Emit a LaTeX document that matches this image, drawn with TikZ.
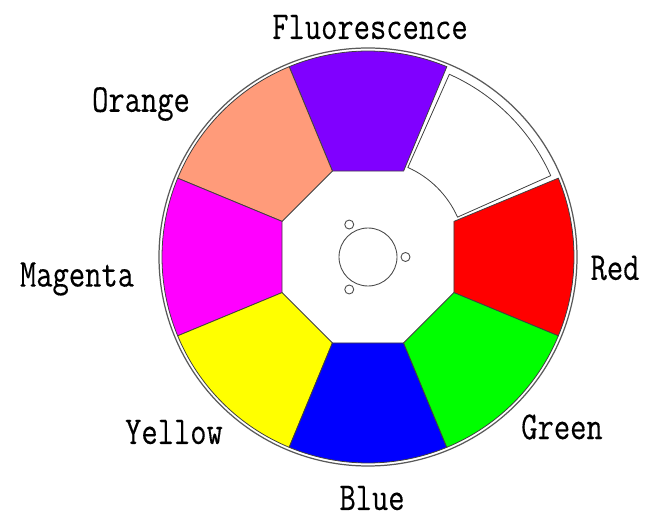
\documentclass[tikz,border=0pt]{standalone}
\usepackage{fontspec}
\newfontfamily\wheelfont[FakeStretch=0.8,FakeBold=0.25]{Latin Modern Mono}
\usetikzlibrary{positioning}
\definecolor{fluorcol}{RGB}{128,0,255}
\definecolor{orangecol}{RGB}{255,155,122}
\definecolor{magentacol}{RGB}{255,0,255}
\definecolor{yellowcol}{RGB}{255,255,0}
\definecolor{bluecol}{RGB}{0,0,255}
\definecolor{greencol}{RGB}{0,255,0}
\definecolor{redcol}{RGB}{255,0,0}
\tikzset{
  ring/.style={draw=black!65, line width=0.7pt, fill=none},
  segm/.style={draw=black!75, line width=0.45pt},
  hole/.style={draw=black!70, line width=0.5pt, fill=white},
  lab/.style={font=\wheelfont\fontsize{22.5}{24}\selectfont, text=black, inner sep=0pt},
}
\begin{document}
\begin{tikzpicture}[x=0.02cm, y=0.02cm]
  \useasboundingbox (-368,-263) rectangle (280,257);
  \draw[ring] (0,0) circle[radius=209];

  % coloured segments, octagon side inside
  \foreach \ang/\col in {22.5/redcol, 112.5/fluorcol, 157.5/orangecol, 202.5/magentacol,
                         247.5/yellowcol, 292.5/bluecol, 337.5/greencol} {
    \pgfmathsetmacro{\angb}{\ang-45}
    \draw[segm, fill=\col] (\ang:93) -- (\ang:206) arc[start angle=\ang, end angle=\angb, radius=206] -- (\angb:93) -- cycle;
  }

  % the clear one sits apart from its neighbours
  \draw[segm, fill=white] (66:98) -- (66:200) arc[start angle=66, end angle=24, radius=200]
    -- (24:98) arc[start angle=24, end angle=66, radius=98] -- cycle;

  \draw[hole] (0,0) circle[radius=29];
  \foreach \ang in {0,120,240} {
    \draw[hole] (\ang:37.5) circle[radius=4.5];
  }

  \node[lab] (fluor) at (2,230) {Fluorescence};
  \node[lab] (orange) at (-227,153) {Orange};
  \node[lab] (magenta) at (-291,-22) {Magenta};
  \node[lab] (yellow) at (-194,-175) {Yellow};
  \node[lab] (blue) at (4,-241) {Blue};
  \node[lab] (green) at (194,-170) {Green};
  \node[lab] (red) at (247,-11) {Red};
\end{tikzpicture}
\end{document}
